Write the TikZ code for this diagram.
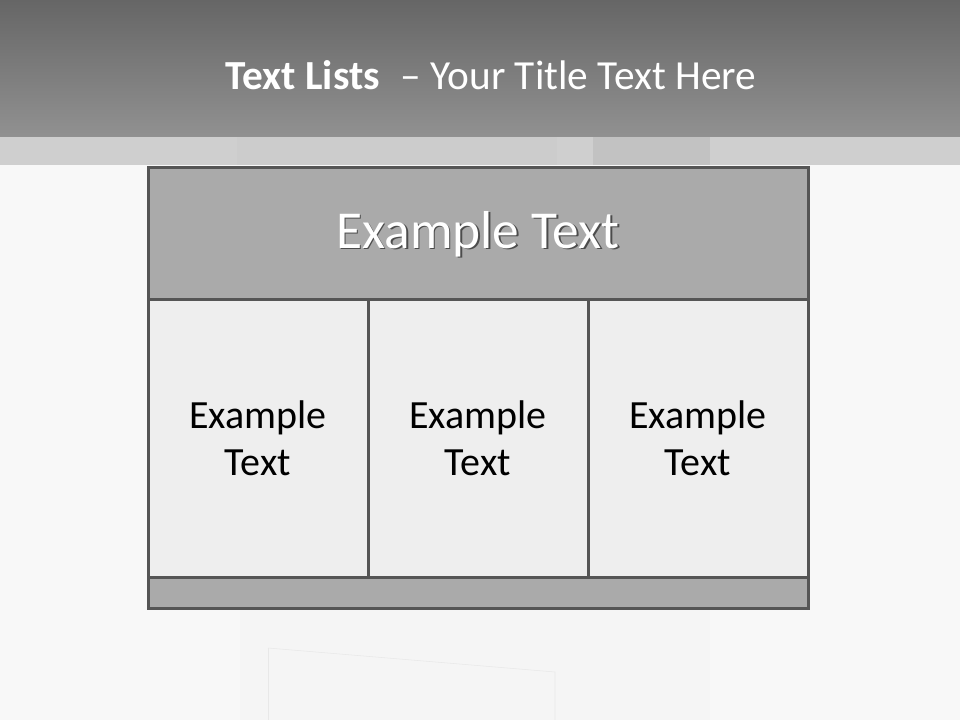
\documentclass[tikz,border=0pt]{standalone}
\usepackage{fontspec}
\setmainfont{Carlito}
\usepackage{tikz}
\usetikzlibrary{positioning}
\definecolor{barTop}{RGB}{102,102,102}
\definecolor{barBottom}{RGB}{145,145,145}
\definecolor{stripGray}{RGB}{207,207,207}
\definecolor{pageBg}{RGB}{248,248,248}
\definecolor{headGray}{RGB}{170,170,170}
\definecolor{cellGray}{RGB}{238,238,238}
\definecolor{lineGray}{RGB}{85,85,85}

\tikzset{
  tablebox/.style={draw=lineGray, line width=2.25pt, inner sep=0pt, outer sep=0pt},
  headbox/.style={tablebox, fill=headGray, minimum width=495pt, minimum height=99pt},
  headfont/.style={font=\fontsize{40}{48}\selectfont},
  cellbox/.style={tablebox, fill=cellGray, minimum width=165pt, minimum height=207.75pt,
    align=center, font=\fontsize{30}{35}\selectfont},
  footbox/.style={tablebox, fill=headGray, minimum width=495pt, minimum height=23.25pt},
  titletext/.style={text=white, font=\fontsize{31}{37}\selectfont}
}

\begin{document}
\begin{tikzpicture}[x=0.75pt,y=-0.75pt]
    \useasboundingbox (0,0) rectangle (960,720);
    % Background with faint door reflection
    \fill[pageBg] (0,0) rectangle (960,720);
    \fill[stripGray] (0,137) rectangle (960,165);
    \fill[black!20] (237,137) rectangle (557,165);
    \fill[black!24] (593,137) rectangle (710,165);
    \fill[black!4] (240,608) rectangle (710,720);
    \draw[black!9] (268,648) -- (555,672) -- (555,720);
    \draw[black!9] (268,648) -- (268,720);
    % Title bar
    \shade[top color=barTop, bottom color=barBottom] (0,0) rectangle (960,137);
    \node[titletext] (title) at (491,75) {\textbf{Text Lists}\; – Your Title Text Here};
    % Table
    \node[headbox] (head) at (478,234) {};
    \node[headfont, text=black!70] (headshadow) at (479.5,235.5) {Example Text};
    \node[headfont, text=white] (headtext) at (head.center) {Example Text};
    \node[cellbox, below right=0pt and 0pt of head.south west] (cellA) {Example\\Text};
    \node[cellbox, right=0pt of cellA] (cellB) {Example\\Text};
    \node[cellbox, right=0pt of cellB] (cellC) {Example\\Text};
    \node[footbox, below right=0pt and 0pt of cellA.south west] (foot) {};
\end{tikzpicture}
\end{document}
